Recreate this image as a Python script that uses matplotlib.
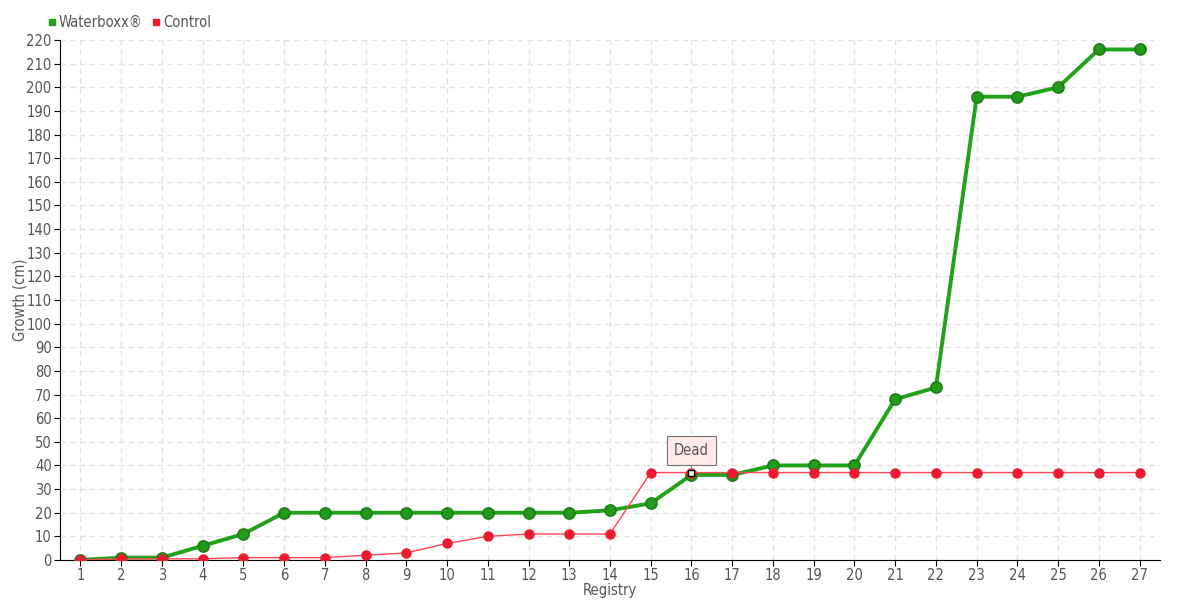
import numpy as np
import matplotlib.pyplot as plt
from matplotlib.lines import Line2D

# ----- Data -----
registry = list(range(1, 28))
waterboxx = [0, 1, 1, 6, 11, 20, 20, 20, 20, 20, 20, 20, 20, 21, 24, 36, 36,
             40, 40, 40, 68, 73, 196, 196, 200, 216, 216]
control = [0, 0.5, 0.5, 0.5, 1, 1, 1, 2, 3, 7, 10, 11, 11, 11, 37, 37, 37,
           37, 37, 37, 37, 37, 37, 37, 37, 37, 37]
dead_at = 16
y_ticks = list(range(0, 221, 10))

plt.rcParams['font.family'] = ['DejaVu Sans']
text_col = '#555555'
green = '#22a11a'
green_edge = '#1f7d18'
red = '#ff4455'
red_mark = '#ee1b2e'

fig = plt.figure(figsize=(11.8, 6), dpi=100)
ax = fig.add_axes([60 / 1180, 40 / 600, 1100 / 1180, 520 / 600])

ax.plot(registry, waterboxx, color=green, lw=2.8, marker='o', ms=8,
        mfc='#229a1a', mec=green_edge, mew=1.2, zorder=3)
ax.plot(registry, control, color=red, lw=1, marker='o', ms=6.5,
        mfc=red_mark, mec=red_mark, zorder=4)

# Dead marker and label
i = registry.index(dead_at)
ax.plot(dead_at, control[i], marker='s', ms=4, mfc='white', mec='black',
        mew=1, zorder=6)
ax.annotate('Dead', xy=(dead_at, control[i]), xytext=(0, 16),
            textcoords='offset points', ha='center', va='center',
            fontsize=10.5, color=text_col, stretch='condensed',
            bbox=dict(boxstyle='square,pad=0.5', fc='#ffe9e9', ec='#777777',
                      lw=0.8),
            arrowprops=dict(arrowstyle='-', color='#777777', lw=0.8,
                            shrinkA=0, shrinkB=3), zorder=7)

ax.set_xlim(0.5, 27.5)
ax.set_ylim(0, 220)
ax.set_xticks(registry)
ax.set_yticks(y_ticks)
ax.grid(True, color='#e2e2e2', linestyle=(0, (4, 3)), lw=1)
ax.set_axisbelow(True)
for side in ['top', 'right']:
    ax.spines[side].set_visible(False)
ax.spines['left'].set_color('black')
ax.spines['bottom'].set_color('black')
ax.tick_params(axis='both', direction='out', length=4, color='black',
               labelsize=10.5, labelcolor=text_col, pad=2)
for lab in ax.get_xticklabels() + ax.get_yticklabels():
    lab.set_stretch('condensed')

ax.set_xlabel('Registry', color=text_col, fontsize=10.5, labelpad=0,
              stretch='condensed')
ax.set_ylabel('Growth (cm)', color=text_col, fontsize=10.5,
              stretch='condensed')
ax.yaxis.set_label_coords(-0.03, 0.5)

handles = [Line2D([], [], marker='s', ls='', color=green, ms=5),
           Line2D([], [], marker='s', ls='', color=red_mark, ms=5)]
leg = fig.legend(handles, ['Waterboxx®', 'Control'], loc='upper left',
                 bbox_to_anchor=(34 / 1180, 1 - 2 / 600), ncol=2,
                 frameon=False, handlelength=0.6, handletextpad=0.2,
                 columnspacing=0.6, fontsize=10.5)
for t in leg.get_texts():
    t.set_color(text_col)
    t.set_stretch('condensed')

fig.savefig('out.png', dpi=100)
